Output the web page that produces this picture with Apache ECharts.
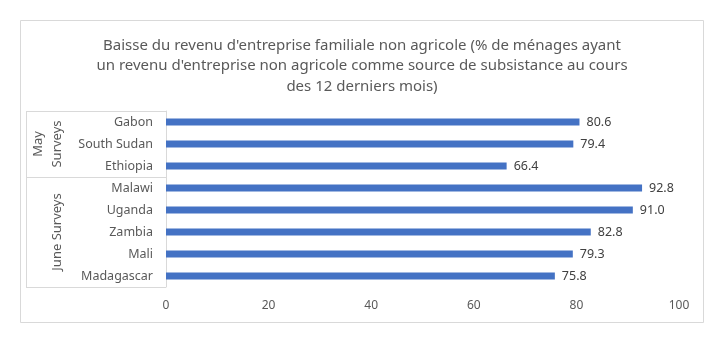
<!DOCTYPE html>
<html>
<head>
<meta charset="utf-8">
<style>
  html, body { margin: 0; padding: 0; background: #ffffff; }
  #chart { width: 724px; height: 343px; }
</style>
<script src="https://cdn.jsdelivr.net/npm/echarts@6/dist/echarts.min.js"></script>
</head>
<body>
<div id="chart"></div>
<script>
// Countries, listed bottom to top as the category axis draws them
const countries = ['Madagascar', 'Mali', 'Zambia', 'Uganda', 'Malawi', 'Ethiopia', 'South Sudan', 'Gabon'];
const shares = [75.8, 79.3, 82.8, 91.0, 92.8, 66.4, 79.4, 80.6];
// Survey rounds: label lines and how many countries (from the bottom) each covers
const surveyGroups = [
  { lines: ['June Surveys'], count: 5 },
  { lines: ['May', 'Surveys'], count: 3 }
];
const xTicks = [0, 20, 40, 60, 80, 100];

const titleText = "Baisse du revenu d'entreprise familiale non agricole (% de ménages ayant\nun revenu d'entreprise non agricole comme source de subsistance au cours\ndes 12 derniers mois)";

const FONT = 'Noto Sans';
const TEXT = '#595959';
const LINE = '#d9d9d9';

const grid = { left: 166, right: 45, top: 111, bottom: 56 };
const W = 724, H = 343;
const plotTop = grid.top, plotBottom = H - grid.bottom;
const boxLeft = 26;

const chart = echarts.init(document.getElementById('chart'), null, { renderer: 'canvas' });

// Outline around the two-level category labels and the group captions
function groupGraphics() {
  const band = (plotBottom - plotTop) / countries.length;
  const els = [];
  els.push({ type: 'line', shape: { x1: boxLeft, y1: plotTop + 0.5, x2: grid.left, y2: plotTop + 0.5 }, style: { stroke: LINE, lineWidth: 1 } });
  els.push({ type: 'line', shape: { x1: boxLeft, y1: plotBottom + 0.5, x2: grid.left, y2: plotBottom + 0.5 }, style: { stroke: LINE, lineWidth: 1 } });
  els.push({ type: 'line', shape: { x1: boxLeft + 0.5, y1: plotTop, x2: boxLeft + 0.5, y2: plotBottom }, style: { stroke: LINE, lineWidth: 1 } });
  let start = 0;
  surveyGroups.forEach((g, i) => {
    const yBottom = plotBottom - start * band;
    const yTop = plotBottom - (start + g.count) * band;
    if (i > 0) {
      els.push({ type: 'line', shape: { x1: boxLeft, y1: Math.round(yBottom) + 0.5, x2: grid.left, y2: Math.round(yBottom) + 0.5 }, style: { stroke: LINE, lineWidth: 1 } });
    }
    const cy = (yTop + yBottom) / 2;
    const n = g.lines.length;
    g.lines.forEach((ln, j) => {
      const x = 57 - (n - 1 - j) * 19;
      els.push({
        type: 'text', x: x, y: cy, rotation: Math.PI / 2,
        style: { text: ln, fill: TEXT, font: '13px "' + FONT + '"', align: 'center', verticalAlign: 'middle' }
      });
    });
    start += g.count;
  });
  // chart frame
  els.push({ type: 'rect', shape: { x: 20.5, y: 20.5, width: 683, height: 302 }, style: { fill: 'none', stroke: LINE, lineWidth: 1 }, z: -1 });
  return els;
}

chart.setOption({
  animation: false,
  backgroundColor: '#ffffff',
  title: {
    text: titleText,
    left: 'center',
    top: 30,
    textStyle: { fontFamily: FONT, fontSize: 15, fontWeight: 'normal', color: TEXT, lineHeight: 20.5 }
  },
  grid: { left: grid.left, right: grid.right, top: grid.top, bottom: grid.bottom, containLabel: false },
  xAxis: {
    type: 'value',
    min: 0, max: 100, interval: 20,
    axisLine: { show: false },
    axisTick: { show: false },
    splitLine: { show: false },
    axisLabel: {
      margin: 13,
      color: TEXT, fontFamily: FONT, fontSize: 12,
      formatter: v => xTicks.includes(v) ? String(v) : ''
    }
  },
  yAxis: {
    type: 'category',
    data: countries,
    axisLine: { show: true, lineStyle: { color: LINE, width: 1 } },
    axisTick: { show: false },
    axisLabel: { margin: 13, color: TEXT, fontFamily: FONT, fontSize: 12.5 }
  },
  series: [{
    type: 'bar',
    data: shares,
    barWidth: 7,
    itemStyle: { color: '#4472C4' },
    label: {
      show: true, position: 'right', distance: 7,
      color: '#404040', fontFamily: FONT, fontSize: 12.5,
      formatter: p => p.value.toFixed(1)
    }
  }],
  graphic: groupGraphics()
});
</script>
</body>
</html>
